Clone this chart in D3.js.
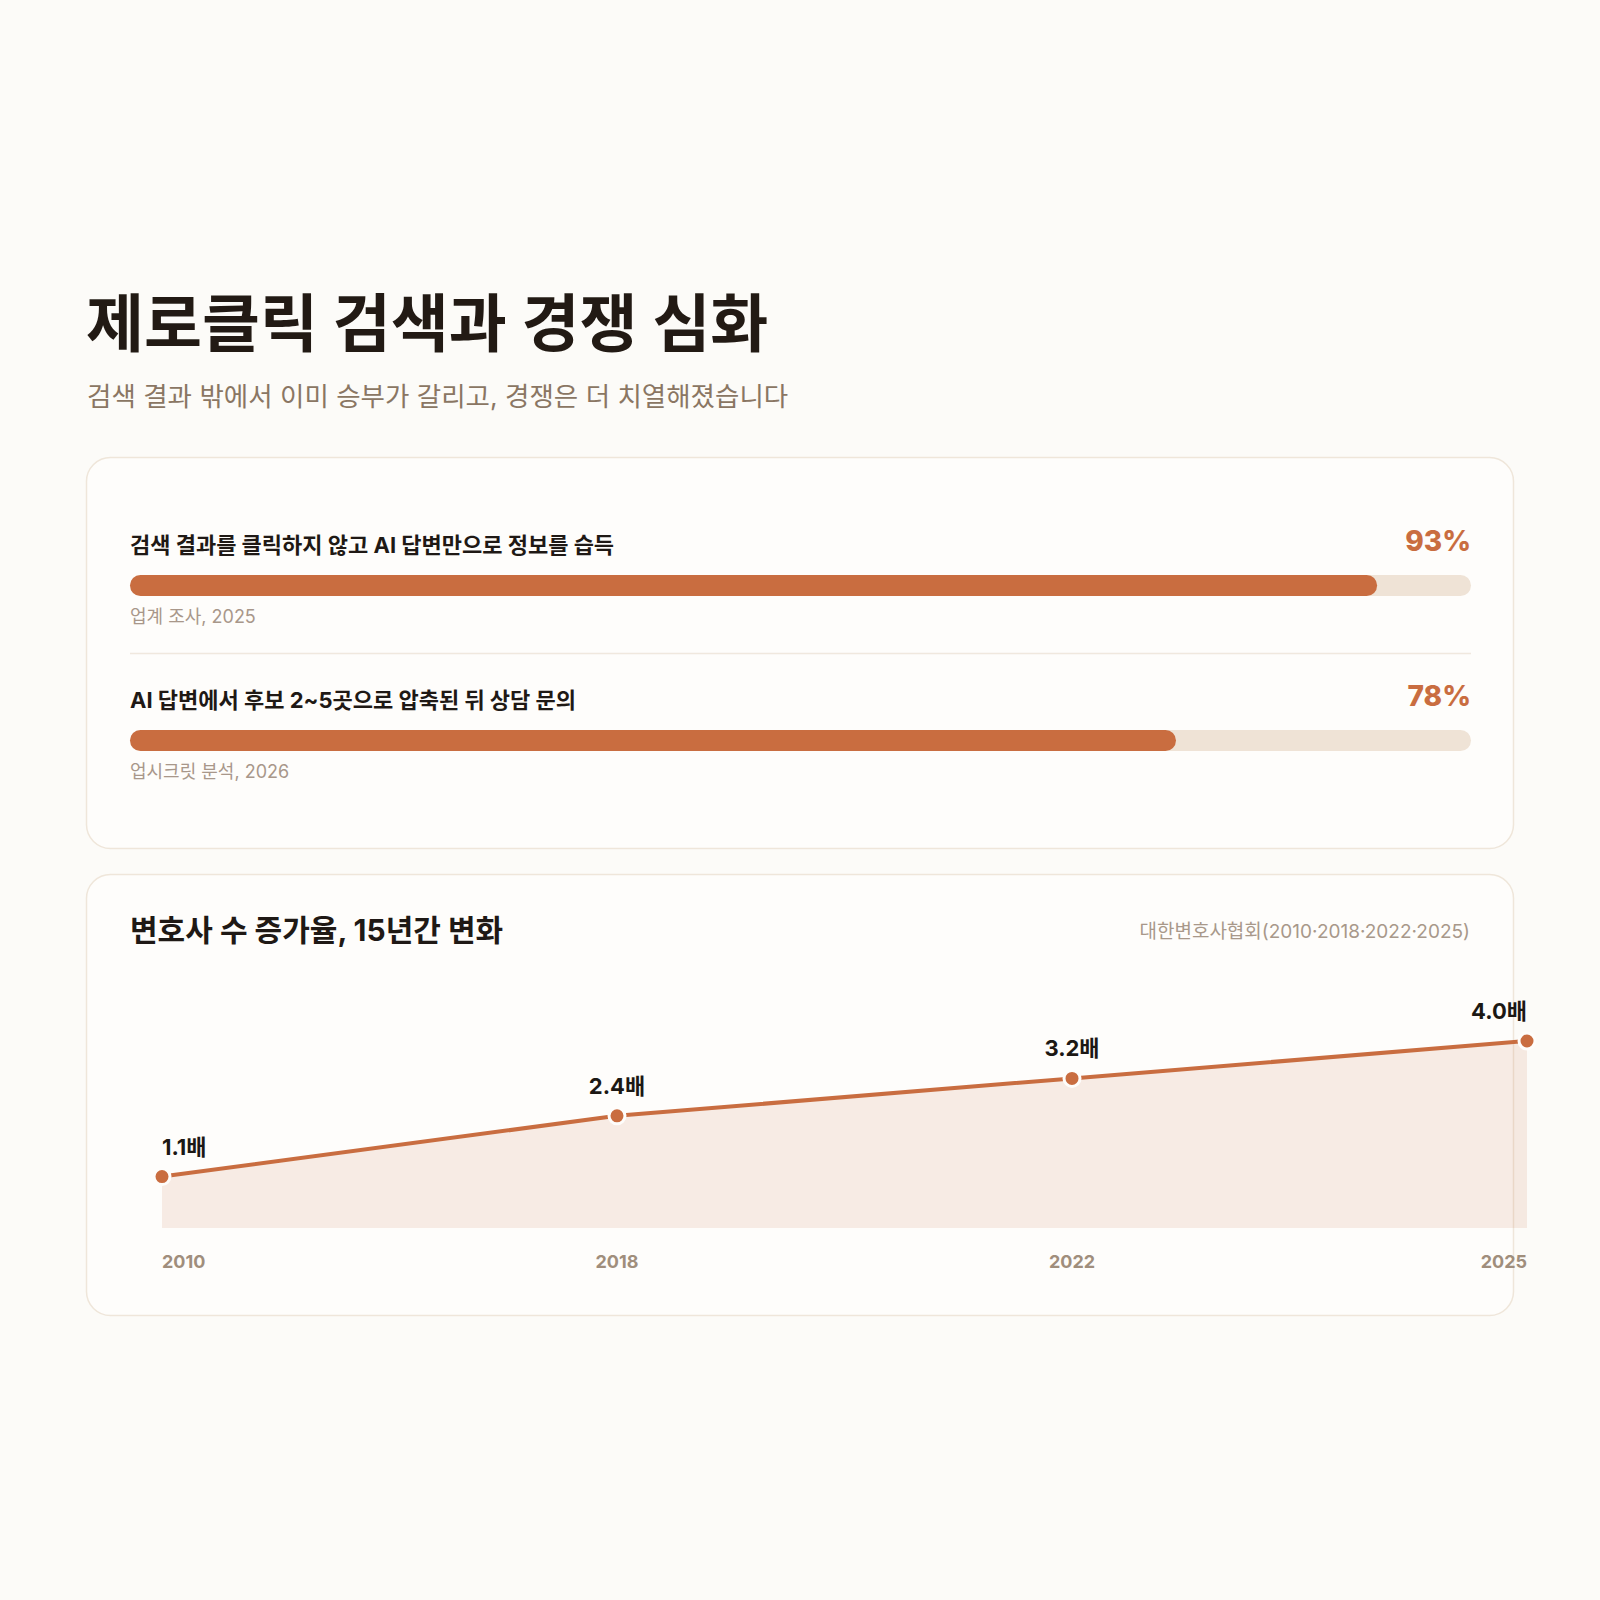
<!DOCTYPE html>
<html lang="ko">
<head>
<meta charset="UTF-8">
<title>제로클릭 검색과 경쟁 심화</title>
<style>
  html, body { margin: 0; padding: 0; background: #fcfbf8; }
  svg { display: block; }
  .kr { font-family: Inter, "Noto Sans CJK KR", "Noto Sans", sans-serif; }
</style>
</head>
<body>
<svg id="chart" width="1600" height="1600"></svg>
<script src="https://cdn.jsdelivr.net/npm/d3@7"></script>
<script>
  // bar stats (percent)
  const statLabels = ["검색 결과를 클릭하지 않고 AI 답변만으로 정보를 습득", "AI 답변에서 후보 2~5곳으로 압축된 뒤 상담 문의"];
  const statValues = [93, 78];
  const statSources = ["업계 조사, 2025", "업시크릿 분석, 2026"];

  // lawyer growth (times)
  const years = ["2010", "2018", "2022", "2025"];
  const growth = [1.1, 2.4, 3.2, 4.0];

  const orange = "#c96d40";
  const svg = d3.select("#chart");

  svg.append("rect").attr("width", 1600).attr("height", 1600).attr("fill", "#fcfbf8");

  // heading
  svg.append("text").attr("class", "kr")
    .attr("x", 86).attr("y", 346)
    .attr("font-size", 63).attr("font-weight", 700).attr("fill", "#221a14")
    .text("제로클릭 검색과 경쟁 심화");
  svg.append("text").attr("class", "kr")
    .attr("x", 87).attr("y", 406)
    .attr("font-size", 26.5).attr("font-weight", 400).attr("fill", "#8a7663")
    .text("검색 결과 밖에서 이미 승부가 갈리고, 경쟁은 더 치열해졌습니다");

  // cards
  const cards = [[457, 848], [874, 1315]];
  svg.append("g").selectAll("rect").data(cards).enter().append("rect")
    .attr("x", 86.5).attr("y", d => d[0] + 0.5)
    .attr("width", 1427).attr("height", d => d[1] - d[0])
    .attr("rx", 24)
    .attr("fill", "#fefdfb").attr("stroke", "#efe6da").attr("stroke-width", 1.5);

  // ---- bar card ----
  const x = d3.scaleLinear().domain([0, 100]).range([130, 1471]);
  const rowTop = [553, 708];
  const barH = 21;

  const rows = svg.append("g").selectAll("g").data(statValues).enter().append("g");

  rows.append("text").attr("class", "kr")
    .attr("x", x(0)).attr("y", (d, i) => rowTop[i])
    .attr("font-size", 22).attr("font-weight", 700).attr("fill", "#1f1915")
    .text((d, i) => statLabels[i]);

  rows.append("text").attr("class", "kr")
    .attr("x", x(100)).attr("y", (d, i) => rowTop[i] - 2)
    .attr("text-anchor", "end")
    .attr("font-size", 28).attr("font-weight", 800).attr("fill", orange)
    .text(d => d + "%");

  rows.append("rect")
    .attr("x", x(0)).attr("y", (d, i) => rowTop[i] + 22)
    .attr("width", x(100) - x(0)).attr("height", barH)
    .attr("rx", barH / 2).attr("fill", "#efe3d6");

  rows.append("rect")
    .attr("x", x(0)).attr("y", (d, i) => rowTop[i] + 22)
    .attr("width", d => x(d) - x(0)).attr("height", barH)
    .attr("rx", barH / 2).attr("fill", orange);

  rows.append("text").attr("class", "kr")
    .attr("x", x(0)).attr("y", (d, i) => rowTop[i] + 70)
    .attr("font-size", 18).attr("fill", "#a8978a")
    .text((d, i) => statSources[i]);

  svg.append("line")
    .attr("x1", x(0)).attr("x2", x(100))
    .attr("y1", 653.5).attr("y2", 653.5)
    .attr("stroke", "#f0e8de").attr("stroke-width", 1.5);

  // ---- line card ----
  svg.append("text").attr("class", "kr")
    .attr("x", 130).attr("y", 941)
    .attr("font-size", 30).attr("font-weight", 700).attr("fill", "#1f1915")
    .text("변호사 수 증가율, 15년간 변화");
  svg.append("text").attr("class", "kr")
    .attr("x", 1470).attr("y", 938).attr("text-anchor", "end")
    .attr("font-size", 19).attr("fill", "#a8988a")
    .text("대한변호사협회(2010·2018·2022·2025)");

  const px = d3.scalePoint().domain(years).range([162, 1527]);
  const py = d3.scaleLinear().domain([0, 4]).range([1228, 1041]);
  const pts = years.map((yr, i) => ({ yr, v: growth[i] }));

  svg.append("path").datum(pts)
    .attr("fill", orange).attr("fill-opacity", 0.12)
    .attr("d", d3.area().x(d => px(d.yr)).y0(py(0)).y1(d => py(d.v)));

  svg.append("path").datum(pts)
    .attr("fill", "none").attr("stroke", orange).attr("stroke-width", 4)
    .attr("d", d3.line().x(d => px(d.yr)).y(d => py(d.v)));

  svg.append("g").selectAll("circle").data(pts).enter().append("circle")
    .attr("cx", d => px(d.yr)).attr("cy", d => py(d.v)).attr("r", 8)
    .attr("fill", orange).attr("stroke", "#fefdfb").attr("stroke-width", 3);

  const anchor = i => i === 0 ? "start" : (i === years.length - 1 ? "end" : "middle");

  svg.append("g").selectAll("text").data(pts).enter().append("text").attr("class", "kr")
    .attr("x", d => px(d.yr)).attr("y", d => py(d.v) - 22)
    .attr("text-anchor", (d, i) => anchor(i))
    .attr("font-size", 22).attr("font-weight", 700).attr("fill", "#1c1814")
    .text(d => d.v.toFixed(1) + "배");

  svg.append("g").selectAll("text").data(years).enter().append("text").attr("class", "kr")
    .attr("x", d => px(d)).attr("y", py(0) + 40)
    .attr("text-anchor", (d, i) => anchor(i))
    .attr("font-size", 18).attr("font-weight", 700).attr("fill", "#a08e7c")
    .text(d => d);
</script>
</body>
</html>
